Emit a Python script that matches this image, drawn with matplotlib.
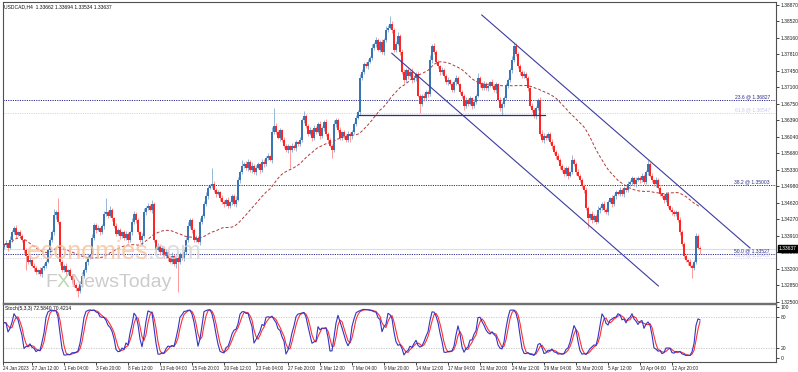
import numpy as np
import pandas as pd
import matplotlib
matplotlib.use("Agg")
import matplotlib.pyplot as plt

plt.rcParams['font.family'] = ['Liberation Sans', 'DejaVu Sans']

# ------------------------------------------------------------------
# data (USDCAD H4), prices in pips above 1.3000
# ------------------------------------------------------------------
first_open_pips = 368
close_pips = [
    372, 376, 365, 382, 399, 408, 393, 399, 391, 382,
    361, 348, 335, 339, 327, 322, 314, 318, 309, 322,
    327, 335, 361, 382, 399, 436, 442, 421, 335, 318,
    327, 314, 318, 305, 297, 286, 279, 273, 288, 305,
    318, 335, 344, 350, 387, 414, 404, 408, 399, 412,
    438, 442, 434, 447, 429, 412, 395, 404, 391, 399,
    387, 395, 382, 399, 421, 438, 425, 399, 382, 391,
    442, 451, 455, 447, 459, 382, 361, 369, 357, 365,
    348, 357, 344, 335, 348, 331, 344, 335, 352, 344,
    357, 382, 412, 425, 404, 382, 387, 378, 421, 434,
    459, 477, 494, 498, 502, 490, 481, 485, 472, 464,
    459, 468, 455, 464, 477, 459, 468, 511, 528, 541,
    545, 537, 550, 532, 541, 528, 537, 545, 532, 550,
    545, 558, 562, 554, 614, 627, 614, 601, 618, 597,
    584, 575, 584, 575, 584, 580, 592, 588, 597, 640,
    648, 627, 610, 618, 601, 622, 614, 631, 605, 622,
    635, 610, 597, 584, 575, 631, 640, 618, 601, 614,
    605, 597, 610, 605, 614, 631, 644, 657, 730, 743,
    760, 755, 764, 773, 794, 803, 811, 790, 807, 786,
    811, 833, 837, 846, 833, 790, 803, 820, 786, 743,
    725, 747, 734, 743, 725, 730, 738, 691, 674, 691,
    687, 700, 695, 768, 798, 786, 764, 755, 743, 747,
    734, 721, 725, 717, 704, 721, 730, 717, 700, 691,
    670, 683, 674, 687, 670, 678, 691, 730, 717, 708,
    717, 708, 713, 721, 713, 704, 717, 683, 665, 674,
    687, 713, 725, 747, 768, 798, 781, 755, 743, 734,
    738, 730, 708, 670, 661, 648, 665, 683, 610, 597,
    605, 601, 610, 592, 584, 571, 562, 554, 541, 532,
    524, 537, 520, 528, 554, 545, 528, 520, 511, 498,
    490, 451, 429, 438, 425, 434, 421, 447, 451, 459,
    447, 442, 464, 472, 459, 477, 485, 481, 490, 481,
    494, 490, 502, 507, 515, 502, 511, 515, 511, 520,
    507, 528, 545, 520, 511, 502, 511, 494, 481, 477,
    468, 481, 455, 447, 442, 438, 442, 425, 399, 374,
    348, 339, 335, 327, 322, 335, 390, 366, 364,
]
upper_wick = [
    4, 6, 3, 8, 5, 4, 6, 3, 5, 4,
    3, 5, 4, 6, 3, 5, 4, 3, 6, 4,
    5, 4, 3, 6, 5, 12, 4, 30, 3, 5,
    4, 6, 3, 5, 4, 3, 5, 4, 6, 8,
    5, 4, 6, 3, 8, 5, 4, 6, 3, 5,
    6, 30, 4, 8, 5, 3, 6, 4, 5, 3,
    4, 6, 5, 3, 8, 6, 4, 5, 3, 6,
    8, 5, 6, 4, 9, 5, 3, 6, 4, 5,
    4, 6, 3, 5, 8, 4, 6, 3, 5, 4,
    5, 6, 8, 4, 5, 3, 6, 4, 8, 5,
    6, 8, 5, 4, 34, 6, 4, 5, 3, 6,
    5, 4, 6, 3, 5, 4, 8, 6, 5, 12,
    4, 6, 5, 3, 8, 4, 6, 5, 3, 6,
    5, 4, 6, 3, 10, 38, 6, 4, 5, 3,
    6, 4, 5, 3, 6, 4, 5, 3, 6, 4,
    10, 5, 4, 6, 3, 8, 5, 4, 6, 5,
    4, 6, 3, 5, 4, 8, 5, 4, 6, 3,
    5, 4, 6, 3, 5, 4, 6, 5, 8, 6,
    5, 4, 6, 3, 8, 5, 6, 4, 5, 6,
    5, 8, 6, 17, 5, 4, 6, 8, 4, 5,
    6, 4, 5, 3, 8, 4, 5, 6, 4, 5,
    6, 4, 5, 12, 5, 6, 4, 5, 3, 6,
    5, 4, 6, 3, 5, 4, 6, 5, 3, 4,
    5, 6, 4, 5, 3, 6, 4, 10, 5, 4,
    6, 4, 5, 3, 6, 4, 5, 3, 6, 4,
    5, 6, 4, 5, 8, 8, 6, 4, 5, 3,
    6, 4, 5, 3, 6, 4, 5, 3, 6, 8,
    6, 4, 5, 3, 6, 4, 5, 6, 4, 5,
    6, 4, 5, 3, 11, 5, 4, 6, 3, 5,
    4, 6, 5, 3, 6, 4, 5, 8, 4, 5,
    6, 4, 5, 3, 6, 4, 5, 3, 6, 4,
    5, 3, 6, 4, 5, 3, 6, 4, 5, 6,
    4, 5, 9, 4, 5, 3, 6, 4, 5, 3,
    6, 4, 5, 3, 6, 4, 5, 3, 6, 4,
    5, 4, 3, 6, 4, 5, 8, 6, 3,
]
lower_wick = [
    5, 4, 6, 3, 5, 4, 6, 3, 5, 4,
    6, 30, 4, 5, 3, 6, 4, 5, 3, 6,
    4, 5, 3, 6, 4, 5, 8, 4, 6, 5,
    4, 6, 5, 3, 6, 4, 5, 13, 4, 6,
    5, 4, 6, 3, 5, 4, 6, 3, 5, 4,
    6, 4, 5, 3, 6, 4, 5, 3, 6, 4,
    5, 4, 6, 3, 5, 4, 6, 3, 5, 10,
    4, 6, 5, 3, 6, 4, 5, 3, 6, 4,
    5, 4, 6, 3, 5, 4, 8, 64, 5, 4,
    6, 4, 5, 3, 6, 4, 5, 3, 6, 4,
    5, 4, 6, 3, 5, 4, 6, 3, 5, 4,
    6, 4, 5, 3, 6, 4, 5, 3, 6, 4,
    5, 4, 6, 3, 5, 4, 6, 3, 5, 4,
    6, 4, 5, 3, 6, 4, 5, 3, 6, 4,
    5, 4, 6, 38, 5, 4, 6, 3, 5, 4,
    6, 4, 5, 3, 6, 4, 5, 3, 6, 4,
    5, 4, 6, 3, 17, 4, 6, 3, 5, 4,
    6, 4, 5, 12, 6, 4, 5, 3, 6, 4,
    5, 4, 6, 3, 5, 4, 6, 3, 5, 4,
    6, 4, 5, 3, 6, 4, 5, 3, 6, 4,
    5, 4, 6, 3, 5, 4, 6, 3, 19, 4,
    6, 4, 5, 3, 6, 4, 5, 3, 6, 4,
    5, 4, 6, 3, 5, 4, 6, 3, 5, 4,
    9, 4, 5, 3, 6, 4, 5, 3, 6, 4,
    5, 4, 6, 3, 5, 4, 6, 3, 5, 15,
    6, 4, 5, 3, 6, 4, 5, 3, 6, 4,
    5, 4, 6, 3, 5, 4, 6, 3, 5, 4,
    6, 4, 5, 3, 6, 4, 5, 3, 6, 4,
    5, 4, 6, 3, 5, 4, 6, 3, 5, 4,
    6, 4, 21, 3, 6, 4, 5, 3, 6, 4,
    5, 4, 6, 3, 5, 4, 6, 3, 5, 4,
    6, 4, 5, 3, 6, 4, 5, 3, 6, 4,
    5, 4, 6, 3, 5, 4, 6, 3, 5, 4,
    6, 4, 5, 3, 6, 4, 5, 3, 6, 4,
    5, 4, 6, 3, 21, 4, 5, 3, 11,
]

x_labels = ["24 Jan 2023", "27 Jan 12:00", "1 Feb 04:00", "3 Feb 20:00", "8 Feb 12:00",
            "13 Feb 04:00", "15 Feb 20:00", "20 Feb 12:00", "23 Feb 04:00", "27 Feb 20:00",
            "2 Mar 12:00", "7 Mar 04:00", "9 Mar 20:00", "14 Mar 12:00", "17 Mar 04:00",
            "21 Mar 20:00", "24 Mar 12:00", "29 Mar 04:00", "31 Mar 20:00", "5 Apr 12:00",
            "10 Apr 04:00", "12 Apr 20:00"]
x_label_bars = [-0.4, 14, 30, 46, 62, 78, 94, 110, 126, 142, 158, 174, 190, 206,
                222, 238, 254, 270, 286, 302, 318, 334]
price_ticks = [1.38870, 1.38520, 1.38160, 1.37810, 1.37450, 1.37100, 1.36750, 1.36390,
               1.36040, 1.35680, 1.35330, 1.34980, 1.34620, 1.34270, 1.33910, 1.33560,
               1.33200, 1.32850, 1.32500]
fib_names = ["23.6 @ 1.36827", "38.2 @ 1.35003", "50.0 @ 1.33527"]
fib_prices = [1.36827, 1.35003, 1.33527]
faint_names = ["61.8 @ 1.36547", "61.8 @ 1.33437"]
faint_prices = [1.36547, 1.33437]
current_price = 1.33637
ma_period = 40

# trend lines: (bar, price) end points
channel_upper = [(238.9, 1.38649), (373.0, 1.33652)]
channel_lower = [(193.9, 1.37828), (327.2, 1.32837)]
support_line = [(177.5, 1.36504), (270.5, 1.36504)]

# ------------------------------------------------------------------
n = min(len(close_pips), len(upper_wick), len(lower_wick))
c = 1.3 + np.array(close_pips[:n]) / 1e4
o = np.r_[1.3 + first_open_pips / 1e4, c[:-1]]
hi = np.maximum(o, c) + np.array(upper_wick[:n]) / 1e4
lo = np.minimum(o, c) - np.array(lower_wick[:n]) / 1e4
idx = np.arange(n)
bull = c >= o

ma = pd.Series(c).rolling(ma_period, min_periods=1).mean()

hs, ls, cs = pd.Series(hi), pd.Series(lo), pd.Series(c)
hh = hs.rolling(5, min_periods=1).max()
ll = ls.rolling(5, min_periods=1).min()
k = 100 * (cs - ll).rolling(3, min_periods=1).sum() / (hh - ll).rolling(3, min_periods=1).sum()
d = k.rolling(3, min_periods=1).mean()

W, H = 798, 372
fig = plt.figure(figsize=(W / 100, H / 100), dpi=100)
fig.patch.set_facecolor("white")

x0, x1 = 3 / W, 776 / W
ax = fig.add_axes([x0, 1 - 303 / H, x1 - x0, (303 - 2) / H])
ax2 = fig.add_axes([x0, 1 - 362 / H, x1 - x0, (362 - 304) / H])

xlim = (-0.5, 386)
tsize = 3.6
frame = "#505050"

# ---------------- main window ----------------
ax.set_xlim(*xlim)
ax.set_ylim(1.32472, 1.38928)

for p in fib_prices:
    ax.axhline(p, color="#2c2c8c", lw=0.7, ls=(0, (1.2, 1.2)), zorder=1)
for p in faint_prices:
    ax.axhline(p, color="#d4d4ee", lw=0.7, ls=(0, (1.2, 1.2)), zorder=1)
ax.axhline(current_price, color="#cde3ec", lw=0.8, zorder=1)

ax.vlines(idx[bull], lo[bull], hi[bull], color="#86acd2", lw=0.6, zorder=2)
ax.vlines(idx[~bull], lo[~bull], hi[~bull], color="#ff8a8a", lw=0.6, zorder=2)
body = np.maximum(np.abs(c - o), 0.00006)
ax.bar(idx[bull], body[bull], bottom=o[bull], width=0.75, color="#3a74b2", lw=0, zorder=3)
ax.bar(idx[~bull], body[~bull], bottom=c[~bull], width=0.75, color="#ff2424", lw=0, zorder=3)

ax.plot(idx, ma, color="#b03a3a", lw=0.7, dashes=(3, 2), zorder=4)

for line in (channel_upper, channel_lower):
    ax.plot([line[0][0], line[1][0]], [line[0][1], line[1][1]], color="#3c3ca0", lw=0.8, zorder=5)
ax.plot([support_line[0][0], support_line[1][0]], [support_line[0][1], support_line[1][1]],
        color="#2c2c90", lw=0.9, zorder=5)

for name, p in zip(fib_names, fib_prices):
    ax.text(383, p + 0.00004, name, fontsize=tsize, color="#2c2c8c", ha="right", va="bottom", zorder=6)
for name, p in zip(faint_names, faint_prices):
    ax.text(383, p + 0.00004, name, fontsize=tsize, color="#c8c8ec", ha="right", va="bottom", zorder=6)

# watermark
wm1 = ax.text(11.5, 1.3357, "economies", fontsize=18, color="#fbc39c", alpha=0.85,
              va="center", zorder=7)
ax.annotate(".com", xy=(1, 0), xycoords=wm1, va="bottom", fontsize=18,
            color="#d8d8d8", alpha=0.85, zorder=7)
wm2 = ax.text(20.5, 1.3292, "F", fontsize=14, color="#cccccc", va="center", zorder=7)
wm3 = ax.annotate("X", xy=(1, 0), xycoords=wm2, va="bottom", fontsize=14,
                  color="#b9d8b0", zorder=7)
ax.annotate("NewsToday", xy=(1, 0), xycoords=wm3, va="bottom", fontsize=14,
            color="#cccccc", zorder=7)

ax.yaxis.tick_right()
ax.set_yticks(price_ticks)
ax.set_yticklabels([f"{p:.5f}" for p in price_ticks])
ax.tick_params(axis="y", labelsize=tsize, length=2, width=0.6, pad=1.5, colors="#222222")
ax.set_xticks([])
for s in ax.spines.values():
    s.set_color(frame)
    s.set_linewidth(0.8)
ax.spines["bottom"].set_linewidth(1.0)
ax.spines["bottom"].set_color("#707070")

ax.text(1.004, current_price, f"{current_price:.5f}", transform=ax.get_yaxis_transform(),
        fontsize=tsize, color="white", ha="left", va="center", clip_on=False, zorder=10,
        bbox=dict(boxstyle="square,pad=0.15", fc="black", ec="black"))

fig.text(4 / W, 1 - 7 / H, "USDCAD,H4  1.33662 1.33694 1.33534 1.33637",
         fontsize=tsize, color="#111111", va="center", ha="left")

# ---------------- stochastic window ----------------
ax2.set_xlim(*xlim)
ax2.set_ylim(-8.5, 106)
for lvl in (80, 20):
    ax2.axhline(lvl, color="#c4c4c4", lw=0.6, ls=(0, (1.5, 1.5)))
ax2.plot(idx, d, color="#ff3030", lw=0.8)
ax2.plot(idx, k, color="#3434c4", lw=0.8)
ax2.text(0.5, 103, "Stoch(5,3,3) 72.5840 70.4214", fontsize=tsize, color="#111111",
         ha="left", va="top")

ax2.yaxis.tick_right()
ax2.set_yticks([100, 80, 20, 0])
ax2.set_yticklabels(["100", "80", "20", "0"])
ax2.tick_params(axis="y", labelsize=tsize, length=2, width=0.6, pad=1.5, colors="#222222")
ax2.set_xticks(x_label_bars)
ax2.set_xticklabels(x_labels)
ax2.tick_params(axis="x", labelsize=3.3, length=2, width=0.6, pad=1.2, colors="#222222")
for t in ax2.get_xticklabels():
    t.set_ha("left")
for s in ax2.spines.values():
    s.set_color(frame)
    s.set_linewidth(0.8)
ax2.spines["top"].set_linewidth(1.0)
ax2.spines["top"].set_color("#707070")

fig.savefig("out.png", dpi=100)
